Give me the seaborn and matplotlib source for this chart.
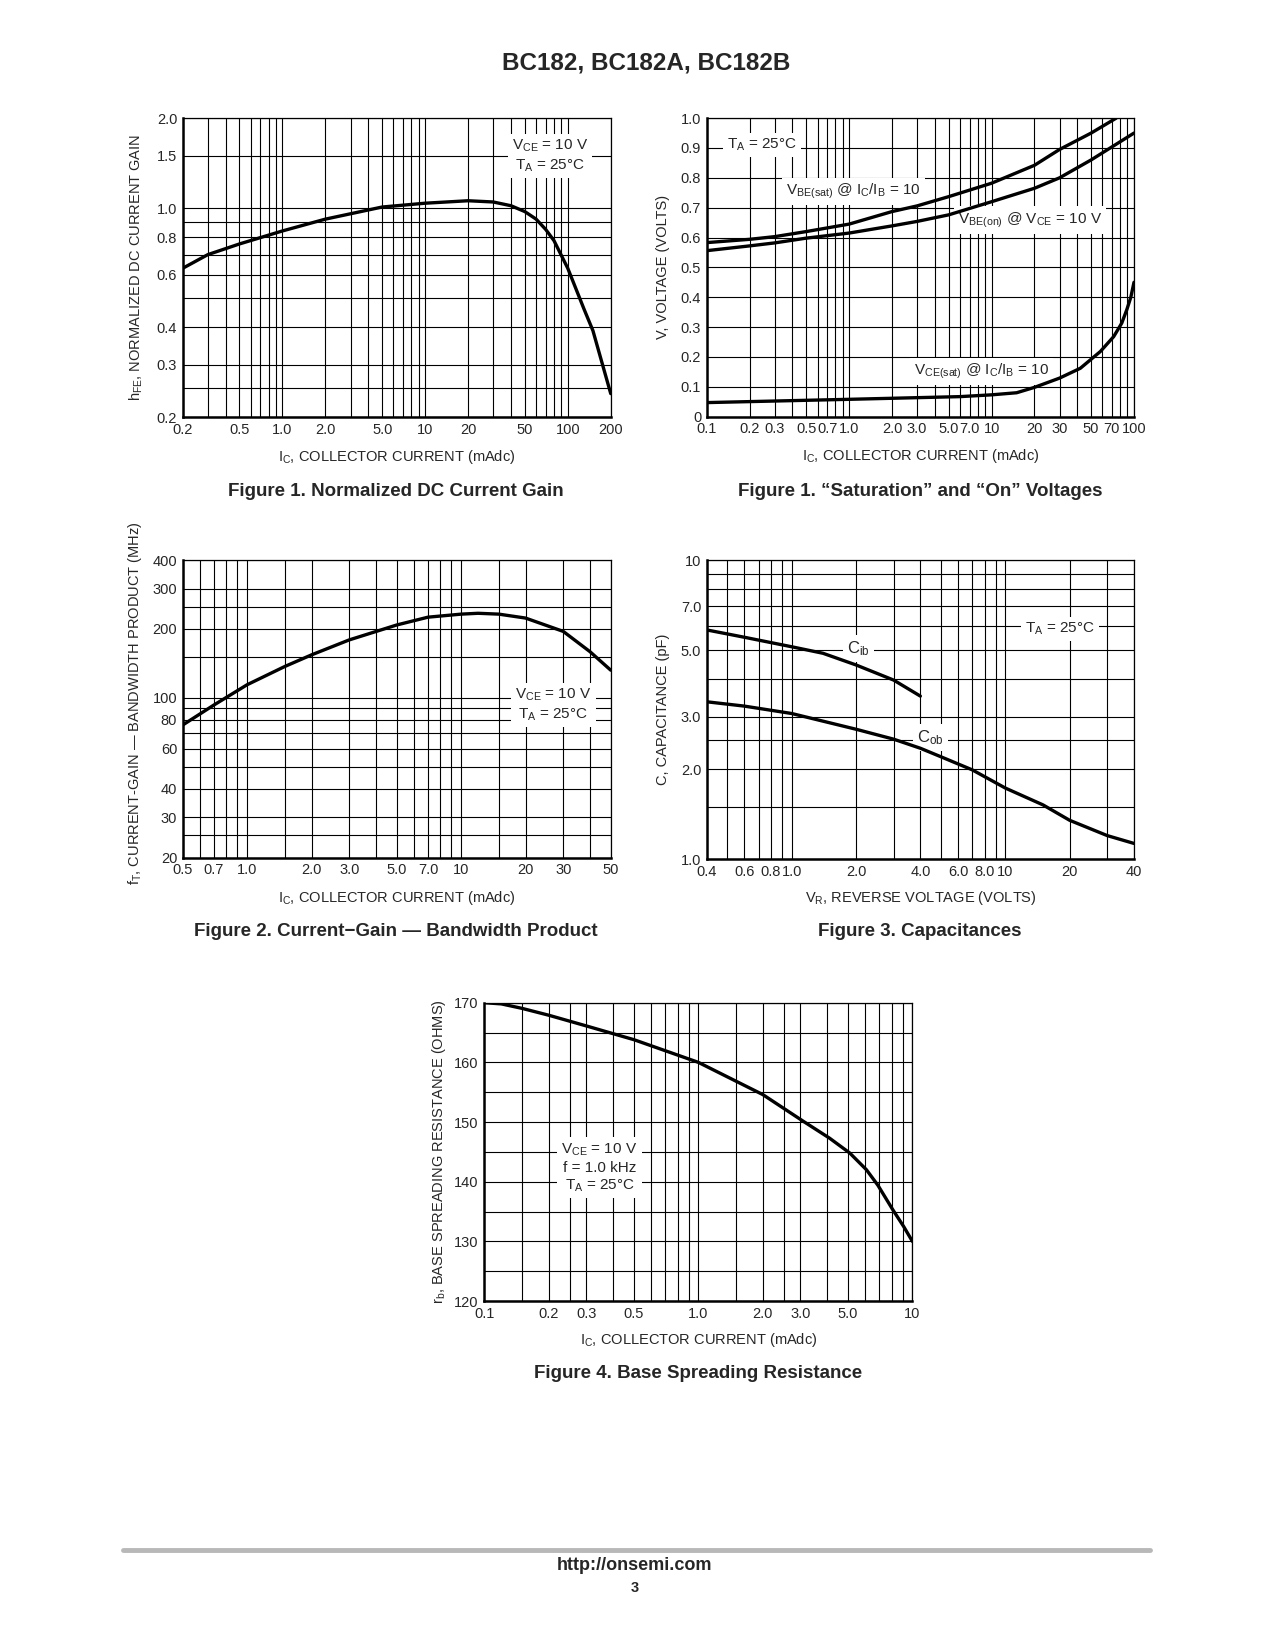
import matplotlib
matplotlib.use("Agg")
import matplotlib.pyplot as plt
import seaborn as sns
from matplotlib.ticker import NullFormatter
from matplotlib.lines import Line2D

# Figure 1: normalized DC current gain
hfe_ic = [0.2, 0.3, 0.5, 1.0, 2.0, 5.0, 10, 20, 30, 40, 50, 60, 70, 80, 100, 130, 150, 200]
hfe_val = [0.63, 0.70, 0.76, 0.84, 0.92, 1.01, 1.04, 1.06, 1.05, 1.02, 0.975, 0.92, 0.85, 0.78, 0.63, 0.46, 0.39, 0.24]

# Figure 1: saturation and on voltages
vbe_sat_ic = [0.1, 0.2, 0.3, 0.5, 1.0, 2.0, 3.0, 5.0, 10, 20, 30, 50, 75]
vbe_sat_v = [0.583, 0.594, 0.603, 0.62, 0.645, 0.687, 0.706, 0.737, 0.782, 0.842, 0.895, 0.95, 1.0]
vbe_on_ic = [0.1, 0.2, 0.3, 0.5, 1.0, 2.0, 3.0, 5.0, 10, 20, 30, 50, 100]
vbe_on_v = [0.556, 0.572, 0.582, 0.598, 0.615, 0.639, 0.654, 0.676, 0.72, 0.765, 0.80, 0.86, 0.95]
vce_sat_ic = [0.1, 1.0, 6.0, 10, 15, 20, 30, 42, 58, 72, 82, 89, 95, 100]
vce_sat_v = [0.047, 0.058, 0.067, 0.073, 0.080, 0.098, 0.129, 0.162, 0.218, 0.268, 0.313, 0.358, 0.40, 0.45]

# Figure 2: current-gain bandwidth product
ft_ic = [0.5, 0.7, 1.0, 1.5, 2.0, 3.0, 5.0, 7.0, 10, 12, 15, 20, 30, 40, 50]
ft_val = [76, 93, 114, 137, 154, 179, 208, 225, 232, 234, 232, 223, 195, 159, 132]

# Figure 3: capacitances
cib_vr = [0.4, 0.6, 1.0, 1.4, 2.0, 3.0, 4.0]
cib_val = [5.84, 5.52, 5.13, 4.88, 4.46, 3.97, 3.51]
cob_vr = [0.4, 0.6, 1.0, 2.0, 3.0, 4.0, 5.0, 7.0, 10, 15, 20, 30, 40]
cob_val = [3.36, 3.25, 3.07, 2.72, 2.52, 2.35, 2.20, 1.99, 1.73, 1.52, 1.35, 1.20, 1.13]

# Figure 4: base spreading resistance
rb_ic = [0.1, 0.12, 0.15, 0.2, 0.3, 0.5, 1.0, 2.0, 3.1, 4.1, 5.1, 6.1, 6.9, 8.1, 9.1, 10]
rb_val = [170, 169.8, 169.05, 167.9, 166.1, 163.8, 160, 154.6, 150.1, 147.3, 144.8, 142.0, 139.4, 135.3, 132.5, 130.0]

sns.set_style("white")
plt.rcParams["font.family"] = ["Liberation Sans", "DejaVu Sans"]
plt.rcParams["mathtext.fontset"] = "custom"
plt.rcParams["mathtext.rm"] = "Liberation Sans"
plt.rcParams["mathtext.it"] = "Liberation Sans:italic"
plt.rcParams["mathtext.bf"] = "Liberation Sans:bold"

fig = plt.figure(figsize=(12.75, 16.5), dpi=100)


def decade_grid(lo, hi):
    vals = []
    d = 1e-3
    while d <= hi * 1.0001:
        for m in range(1, 10):
            v = round(m * d, 6)
            if lo * 0.9999 <= v <= hi * 1.0001:
                vals.append(v)
        d *= 10
    return vals


def setup(ax, xlim, ylim, xticks, xlabels, yticks, ylabels, xgrid, ygrid, logy=True):
    ax.set_xscale("log")
    if logy:
        ax.set_yscale("log")
    ax.set_xticks(xgrid, minor=True)
    ax.set_yticks(ygrid, minor=True)
    ax.set_xticks(xticks, labels=xlabels)
    ax.set_yticks(yticks, labels=ylabels)
    ax.xaxis.set_minor_formatter(NullFormatter())
    ax.yaxis.set_minor_formatter(NullFormatter())
    ax.set_xlim(xlim)
    ax.set_ylim(ylim)
    ax.grid(True, which="both", color="black", lw=0.8)
    ax.tick_params(which="both", length=0, labelsize=10.5, pad=4)
    for s in ["left", "bottom"]:
        ax.spines[s].set_linewidth(1.8)
    for s in ["top", "right"]:
        ax.spines[s].set_linewidth(0.9)
    for s in ax.spines.values():
        s.set_color("black")
        s.set_zorder(3)


def note(ax, x, y, txt, size=11):
    ax.text(x, y, txt, transform=ax.transAxes, ha="center", va="center", fontsize=size,
            linespacing=1.25, zorder=4,
            bbox=dict(facecolor="white", edgecolor="none", pad=3))


def curve(ax, x, y):
    sns.lineplot(x=x, y=y, ax=ax, color="black", lw=2.4, zorder=5)


def labels(ax, xl, yl, xy, yx, yy=0.5):
    ax.set_xlabel(xl, fontsize=10.5)
    ax.xaxis.set_label_coords(0.5, xy)
    ax.set_ylabel(yl, fontsize=10.5)
    ax.yaxis.set_label_coords(yx, yy)


ic_label = r"I$_\mathregular{C}$, COLLECTOR CURRENT (mAdc)"

# ---- Figure 1 (left): hFE
ax1 = fig.add_axes([0.1433, 0.7471, 0.3357, 0.1812])
setup(ax1, (0.2, 200), (0.2, 2.0),
      [0.2, 0.5, 1, 2, 5, 10, 20, 50, 100, 200],
      ["0.2", "0.5", "1.0", "2.0", "5.0", "10", "20", "50", "100", "200"],
      [0.2, 0.3, 0.4, 0.6, 0.8, 1.0, 1.5, 2.0],
      ["0.2", "0.3", "0.4", "0.6", "0.8", "1.0", "1.5", "2.0"],
      decade_grid(0.2, 200),
      [0.2, 0.25, 0.3, 0.4, 0.5, 0.6, 0.7, 0.8, 0.9, 1.0, 1.5, 2.0])
curve(ax1, hfe_ic, hfe_val)
note(ax1, 0.858, 0.874, "V$_\\mathregular{CE}$ = 10 V\nT$_\\mathregular{A}$ = 25°C")
labels(ax1, ic_label, r"h$_\mathregular{FE}$, NORMALIZED DC CURRENT GAIN", -0.103, -0.087)

# ---- Figure 1 (right): voltages
ax2 = fig.add_axes([0.5543, 0.7475, 0.3351, 0.1809])
setup(ax2, (0.1, 100), (0, 1.0),
      [0.1, 0.2, 0.3, 0.5, 0.7, 1, 2, 3, 5, 7, 10, 20, 30, 50, 70, 100],
      ["0.1", "0.2", "0.3", "0.5", "0.7", "1.0", "2.0", "3.0", "5.0", "7.0", "10",
       "20", "30", "50", "70", "100"],
      [i / 10 for i in range(11)],
      ["0"] + [f"{i / 10:.1f}" for i in range(1, 11)],
      decade_grid(0.1, 100),
      [i / 10 for i in range(11)], logy=False)
curve(ax2, vbe_sat_ic, vbe_sat_v)
curve(ax2, vbe_on_ic, vbe_on_v)
curve(ax2, vce_sat_ic, vce_sat_v)
note(ax2, 0.129, 0.91, "T$_\\mathregular{A}$ = 25°C")
note(ax2, 0.343, 0.754, "V$_\\mathregular{BE(sat)}$ @ I$_\\mathregular{C}$/I$_\\mathregular{B}$ = 10")
note(ax2, 0.757, 0.659, "V$_\\mathregular{BE(on)}$ @ V$_\\mathregular{CE}$ = 10 V")
note(ax2, 0.643, 0.151, "V$_\\mathregular{CE(sat)}$ @ I$_\\mathregular{C}$/I$_\\mathregular{B}$ = 10")
labels(ax2, ic_label, "V, VOLTAGE (VOLTS)", -0.103, -0.085)

# ---- Figure 2: fT
ax3 = fig.add_axes([0.1433, 0.4802, 0.3357, 0.1804])
setup(ax3, (0.5, 50), (20, 400),
      [0.5, 0.7, 1, 2, 3, 5, 7, 10, 20, 30, 50],
      ["0.5", "0.7", "1.0", "2.0", "3.0", "5.0", "7.0", "10", "20", "30", "50"],
      [20, 30, 40, 60, 80, 100, 200, 300, 400],
      ["20", "30", "40", "60", "80", "100", "200", "300", "400"],
      [0.5, 0.6, 0.7, 0.8, 0.9, 1, 1.5, 2, 3, 4, 5, 6, 7, 8, 9, 10, 15, 20, 30, 40, 50],
      [20, 25, 30, 40, 50, 60, 70, 80, 90, 100, 150, 200, 250, 300, 400])
curve(ax3, ft_ic, ft_val)
note(ax3, 0.866, 0.513, "V$_\\mathregular{CE}$ = 10 V\nT$_\\mathregular{A}$ = 25°C")
labels(ax3, ic_label, r"f$_\mathregular{T}$, CURRENT-GAIN — BANDWIDTH PRODUCT (MHz)",
       -0.105, -0.090, 0.52)

# ---- Figure 3: capacitances
ax4 = fig.add_axes([0.5543, 0.4792, 0.3351, 0.1814])
setup(ax4, (0.4, 40), (1.0, 10),
      [0.4, 0.6, 0.8, 1, 2, 4, 6, 8, 10, 20, 40],
      ["0.4", "0.6", "0.8", "1.0", "2.0", "4.0", "6.0", "8.0", "10", "20", "40"],
      [1, 2, 3, 5, 7, 10],
      ["1.0", "2.0", "3.0", "5.0", "7.0", "10"],
      [0.4, 0.5, 0.6, 0.7, 0.8, 0.9, 1, 2, 3, 4, 5, 6, 7, 8, 9, 10, 20, 30, 40],
      [1, 1.5, 2, 2.5, 3, 4, 5, 6, 7, 8, 9, 10])
curve(ax4, cib_vr, cib_val)
curve(ax4, cob_vr, cob_val)
note(ax4, 0.827, 0.769, "T$_\\mathregular{A}$ = 25°C")
note(ax4, 0.355, 0.705, "C$_\\mathregular{ib}$", size=12)
note(ax4, 0.523, 0.408, "C$_\\mathregular{ob}$", size=12)
labels(ax4, r"V$_\mathregular{R}$, REVERSE VOLTAGE (VOLTS)", "C, CAPACITANCE (pF)",
       -0.099, -0.085)

# ---- Figure 4: rb
ax5 = fig.add_axes([0.3799, 0.2115, 0.3357, 0.1808])
setup(ax5, (0.1, 10), (120, 170),
      [0.1, 0.2, 0.3, 0.5, 1, 2, 3, 5, 10],
      ["0.1", "0.2", "0.3", "0.5", "1.0", "2.0", "3.0", "5.0", "10"],
      [120, 130, 140, 150, 160, 170],
      ["120", "130", "140", "150", "160", "170"],
      [0.1, 0.15, 0.2, 0.25, 0.3, 0.4, 0.5, 0.6, 0.7, 0.8, 0.9, 1, 1.5, 2, 2.5, 3,
       4, 5, 6, 7, 8, 9, 10],
      list(range(120, 171, 5)), logy=False)
curve(ax5, rb_ic, rb_val)
note(ax5, 0.269, 0.447,
     "V$_\\mathregular{CE}$ = 10 V\nf = 1.0 kHz\nT$_\\mathregular{A}$ = 25°C")
labels(ax5, ic_label, r"r$_\mathregular{b}$, BASE SPREADING RESISTANCE (OHMS)", -0.100, -0.086)

# page text
bold = dict(family=["Liberation Sans", "DejaVu Sans"], weight="bold",
            ha="center", va="center")
fig.text(0.507, 1 - 63 / 1650, "BC182, BC182A, BC182B", fontsize=17.5, **bold)
fig.text(396 / 1275, 1 - 491 / 1650, "Figure 1. Normalized DC Current Gain", fontsize=13.5, **bold)
fig.text(920 / 1275, 1 - 491 / 1650, "Figure 1. “Saturation” and “On” Voltages", fontsize=13.5, **bold)
fig.text(396 / 1275, 1 - 932 / 1650, "Figure 2. Current−Gain — Bandwidth Product", fontsize=13.5, **bold)
fig.text(920 / 1275, 1 - 932 / 1650, "Figure 3. Capacitances", fontsize=13.5, **bold)
fig.text(698 / 1275, 1 - 1374 / 1650, "Figure 4. Base Spreading Resistance", fontsize=13.5, **bold)
fig.add_artist(Line2D([123 / 1275, 1150 / 1275], [1 - 1550 / 1650] * 2,
                      color="#b8b8b8", lw=3.5))
fig.text(635 / 1275, 1 - 1566 / 1650, "http://onsemi.com", fontsize=13, **bold)
fig.text(635 / 1275, 1 - 1588 / 1650, "3", fontsize=10.5, **bold)

fig.savefig("out.png", dpi=100, facecolor="white")
